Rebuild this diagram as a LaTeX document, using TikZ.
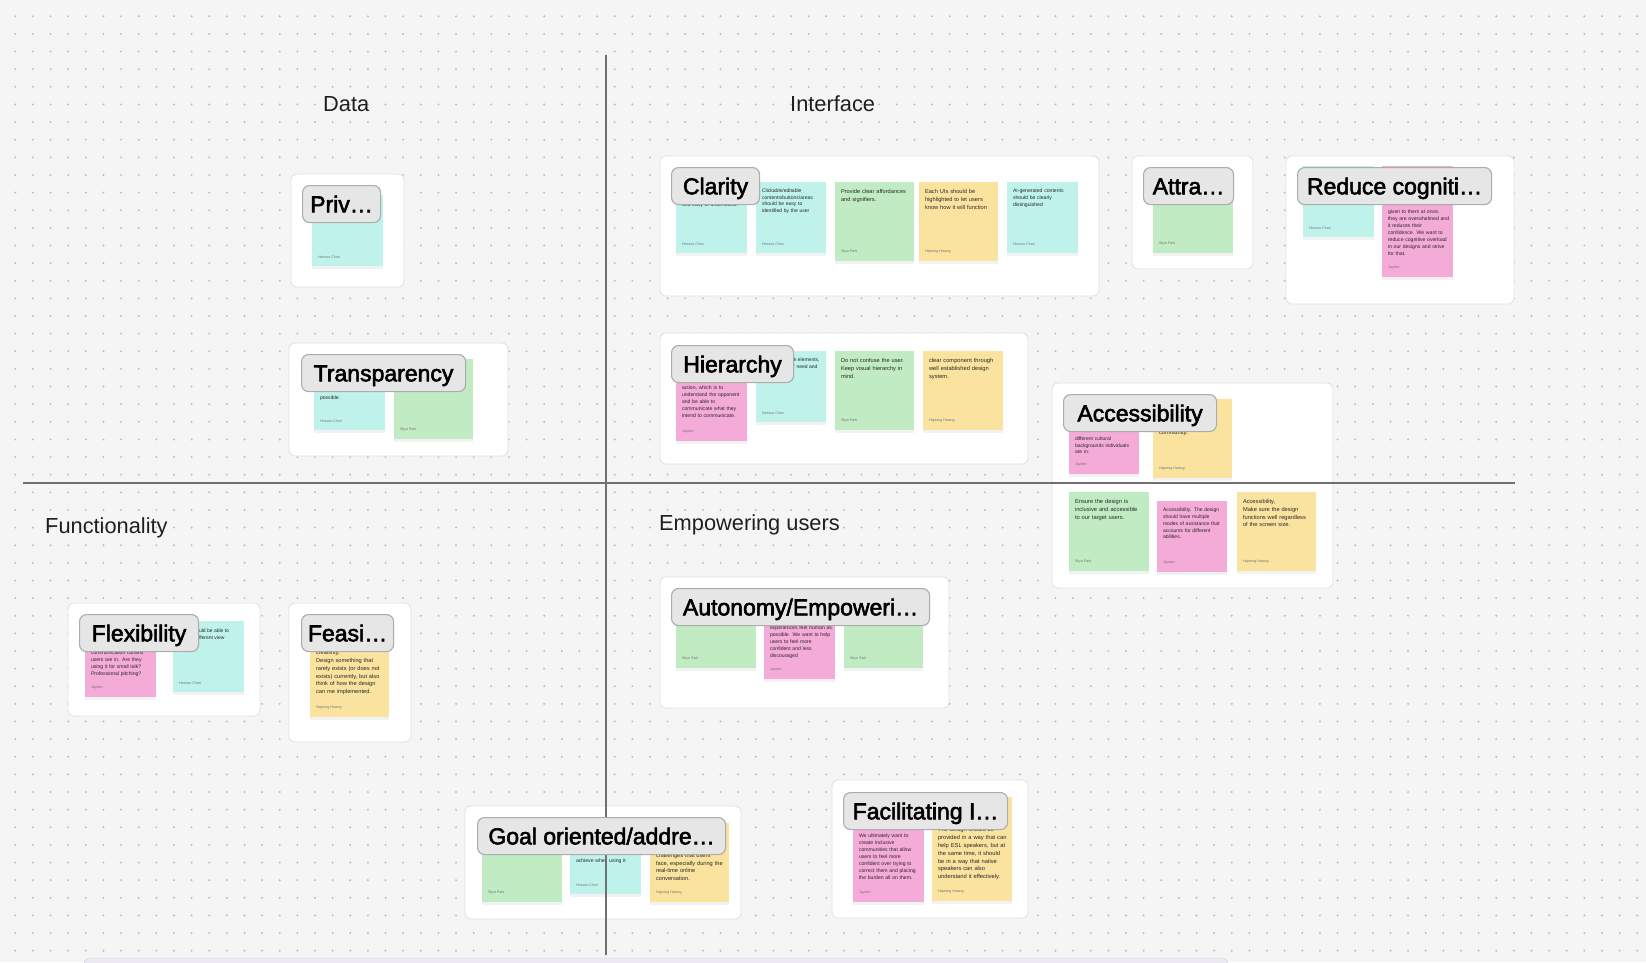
\documentclass[tikz,border=0pt]{standalone}
\usepackage{fontspec}
\setmainfont{Liberation Sans}
\newfontfamily\tagfont{Liberation Sans}[FakeBold=2.5]
\usepackage{xcolor}
\usetikzlibrary{positioning,shadows}
\definecolor{PageBg}{RGB}{245,245,245}
\definecolor{DotGray}{RGB}{190,190,190}
\definecolor{BoxLine}{RGB}{226,226,226}
\definecolor{AxisGray}{RGB}{112,112,112}
\definecolor{NoteCyan}{RGB}{190,242,235}
\definecolor{NoteGreen}{RGB}{193,236,195}
\definecolor{NoteYellow}{RGB}{250,227,158}
\definecolor{NotePink}{RGB}{244,171,216}
\definecolor{TagFill}{RGB}{230,230,230}
\definecolor{TagLine}{RGB}{172,172,172}
\definecolor{NoteInk}{RGB}{40,40,40}
\definecolor{NameInk}{RGB}{115,115,115}
\definecolor{BarLav}{RGB}{236,233,245}
\tikzset{
  groupbox/.style={draw=BoxLine,fill=white,line width=0.9,rounded corners=6},
  notebox/.style={inner sep=0,outer sep=0,anchor=north west,
    drop shadow={shadow xshift=0pt,shadow yshift=-2.5pt,opacity=0.10}},
  notetext/.style={inner sep=0,outer sep=0,align=left,text=NoteInk},
  noteauthor/.style={inner sep=0,outer sep=0,text=NameInk,font=\fontsize{3.6}{4}\selectfont},
  tagbox/.style={draw=TagLine,fill=TagFill,line width=1.1,rounded corners=7,anchor=north west,
    minimum height=37,inner xsep=3,text height=19.5,text depth=3,
    font=\tagfont\fontsize{23}{27}\selectfont},
  axislabel/.style={anchor=base west,inner sep=0,text=black!88,font=\fontsize{21.8}{26}\selectfont}
}
\newcommand{\stickynote}[8]{%
  \node[notebox,fill=#1,minimum width=#4,minimum height=#5] (#2) at (#3) {};
  \pgfmathsetmacro{\nfs}{#4*0.072}\pgfmathsetmacro{\nls}{#4*0.098}\pgfmathsetmacro{\ntw}{#4-6}%
  \node[notetext,anchor=north west,text width=\ntw pt,font=\fontsize{\nfs}{\nls}\selectfont]
    (#2-t) at ([shift={(6,#6)}]#2.north west) {#7};
  \node[noteauthor,anchor=west] (#2-a) at ([shift={(6,-9)}]#2.south west) {#8};
}

\begin{document}
\begin{tikzpicture}[x=1pt,y=-1pt]
\useasboundingbox (0,0) rectangle (1646,962);
\fill[PageBg] (0,0) rectangle (1646,962);
\foreach \i in {0,...,93}{
  \foreach \j in {0,...,54}{
    \fill[DotGray] (15.3+\i*17.63,16.3+\j*17.63) circle (1.1);
  }
}
\fill[BarLav,draw=BarLav!80!gray,rounded corners=6] (84,958) rectangle (1228,980);

\draw[groupbox] (291,174) rectangle (404,287);
\draw[groupbox] (289,343) rectangle (508,456);
\draw[groupbox] (660,156) rectangle (1099,296);
\draw[groupbox] (1132,156) rectangle (1253,269);
\draw[groupbox] (1286,156) rectangle (1514,304);
\draw[groupbox] (660,333) rectangle (1028,464);
\draw[groupbox] (1052,383) rectangle (1333,588);
\draw[groupbox] (68,603) rectangle (260,716);
\draw[groupbox] (289,603) rectangle (411,742);
\draw[groupbox] (660,577) rectangle (949,708);
\draw[groupbox] (465,806) rectangle (741,919);
\draw[groupbox] (832,780) rectangle (1028,918);

\stickynote{NoteCyan}{privA}{312,195}{71}{71}{0}{}{Heesoo Chen}
\stickynote{NoteCyan}{transpA}{314,360}{71}{70}{35.8}{possible.}{Heesoo Chen}
\stickynote{NoteGreen}{transpB}{394,359}{79}{80}{0}{}{Skye Park}

\stickynote{NoteCyan}{clarA}{676,182}{71}{71}{21.2}{and easy to understand.}{Heesoo Chen}
\stickynote{NoteCyan}{clarB}{756,182}{70}{71}{6.5}{Clickable/editable\\contents/buttons/areas\\should be easy to\\identified by the user}{Heesoo Chen}
\stickynote{NoteGreen}{clarC}{835,182}{79}{79}{7.5}{Provide clear affordances\\and signifiers.}{Skye Park}
\stickynote{NoteYellow}{clarD}{919,182}{79}{79}{7.5}{Each UIs should be\\highlighted to let users\\know how it will function}{Hajeong Hwang}
\stickynote{NoteCyan}{clarE}{1007,182}{71}{71}{7.2}{AI-generated contents\\should be clearly\\distinguished}{Heesoo Chen}

\stickynote{NoteGreen}{attrA}{1153,174}{80}{79}{0}{}{Skye Park}

\stickynote{NoteCyan}{redA}{1303,166}{71}{71}{0}{}{Heesoo Chen}
\stickynote{NotePink}{redB}{1382,166}{71}{111}{43.8}{given to them at once,\\they are overwhelmed and\\it reduces their\\confidence. We want to\\reduce cognitive overload\\in our designs and strive\\for that.}{Jayden}

\stickynote{NotePink}{hierA}{676,351}{71}{90}{27.8}{priority and immediate\\action, which is to\\understand the opponent\\and be able to\\communicate what they\\intend to communicate.}{Jayden}
\stickynote{NoteCyan}{hierB}{756,351}{70}{71}{0}{}{Heesoo Chen}
\node[notetext,anchor=north west,font=\fontsize{5}{6.9}\selectfont] (hierB-f) at (794,357.5) {k elements,\\' need and};
\stickynote{NoteGreen}{hierC}{835,351}{79}{79}{7.5}{Do not confuse the user.\\Keep visual hierarchy in\\mind.}{Skye Park}
\stickynote{NoteYellow}{hierD}{923,351}{80}{79}{7.5}{clear component through\\well established design\\system.}{Hajeong Hwang}

\stickynote{NotePink}{accA}{1069,399}{70}{75}{37.5}{different cultural\\backgrounds individuals\\are in.}{Jayden}
\stickynote{NoteYellow}{accB}{1153,399}{79}{79}{31.2}{community.}{Hajeong Hwang}
\stickynote{NoteGreen}{accC}{1069,492}{80}{79}{7.5}{Ensure the design is\\inclusive and accessible\\to our target users.}{Skye Park}
\stickynote{NotePink}{accD}{1157,501}{70}{71}{6.8}{Accessibility. The design\\should have multiple\\modes of assistance that\\accounts for different\\abilities.}{Jayden}
\stickynote{NoteYellow}{accE}{1237,492}{79}{79}{7.5}{Accessibility,\\Make sure the design\\functions well regardless\\of the screen size.}{Hajeong Hwang}

\stickynote{NotePink}{flexA}{85,621}{71}{76}{29.8}{communication context\\users are in. Are they\\using it for small talk?\\Professional pitching?}{Jayden}
\stickynote{NoteCyan}{flexB}{173,621}{71}{71}{0}{}{Heesoo Chen}
\node[notetext,anchor=north west,font=\fontsize{5}{7.5}\selectfont] (flexB-f) at (199,628.5) {uld be able to\\fferent view};

\stickynote{NoteYellow}{feasA}{310,621}{79}{96}{29.8}{creativity,\\Design something that\\rarely exists (or does not\\exists) currently, but also\\think of how the design\\can me implemented.}{Hajeong Hwang}

\stickynote{NoteGreen}{autA}{676,588}{80}{80}{0}{}{Skye Park}
\stickynote{NotePink}{autB}{764,588}{71}{91}{37.8}{experiences feel human as\\possible. We want to help\\users to feel more\\confident and less\\discouraged}{Jayden}
\stickynote{NoteGreen}{autC}{844,588}{79}{80}{0}{}{Skye Park}

\stickynote{NoteGreen}{goalA}{482,822}{80}{80}{0}{}{Skye Park}
\stickynote{NoteCyan}{goalB}{570,823}{71}{71}{35.5}{achieve when using it}{Heesoo Chen}
\stickynote{NoteYellow}{goalC}{650,823}{79}{79}{30.2}{challenges that users\\face, especially during the\\real-time online\\conversation.}{Hajeong Hwang}

\stickynote{NotePink}{facA}{853,827}{71}{75}{7.2}{We ultimately want to\\create inclusive\\communities that allow\\users to feel more\\confident over trying to\\correct them and placing\\the burden all on them.}{Jayden}
\stickynote{NoteYellow}{facB}{932,797}{80}{104}{30.5}{The design should be\\provided in a way that can\\help ESL speakers, but at\\the same time, it should\\be in a way that native\\speakers can also\\understand it effectively.}{Hajeong Hwang}

\coordinate (vtop) at (605.7,54.6);
\coordinate (vbot) at (605.7,955);
\coordinate (hleft) at (23,483);
\coordinate (hright) at (1515,483);
\draw[AxisGray,line width=2.2] (vtop) -- (vbot);
\draw[AxisGray,line width=2.2] (hleft) -- (hright);

\foreach \nm/\px/\py/\w/\lbl in {
  privT/302/185/78/Priv\ldots,
  transpT/301/354/164/Transparency,
  clarT/671/167/88/Clarity,
  attrT/1143/167/90/Attra\ldots,
  redT/1297/167/194/Reduce cogniti\ldots,
  hierT/671/345/122/Hierarchy,
  accT/1063/394/153/Accessibility,
  flexT/79/614/119/Flexibility,
  feasT/301/614/92/Feasi\ldots,
  autT/671/588/258/{Autonomy/Empoweri\ldots},
  goalT/477/817/248/{Goal oriented/addre\ldots},
  facT/843/792/164/Facilitating I\ldots
}{
  \node[tagbox,minimum width=\w] (\nm) at (\px,\py) {\lbl};
}

\foreach \nm/\px/\py/\lbl in {
  dataL/323/111/Data,
  ifaceL/790/111/Interface,
  funcL/45/533/Functionality,
  empL/659/530/Empowering users
}{
  \node[axislabel] (\nm) at (\px,\py) {\lbl};
}
\end{tikzpicture}
\end{document}
